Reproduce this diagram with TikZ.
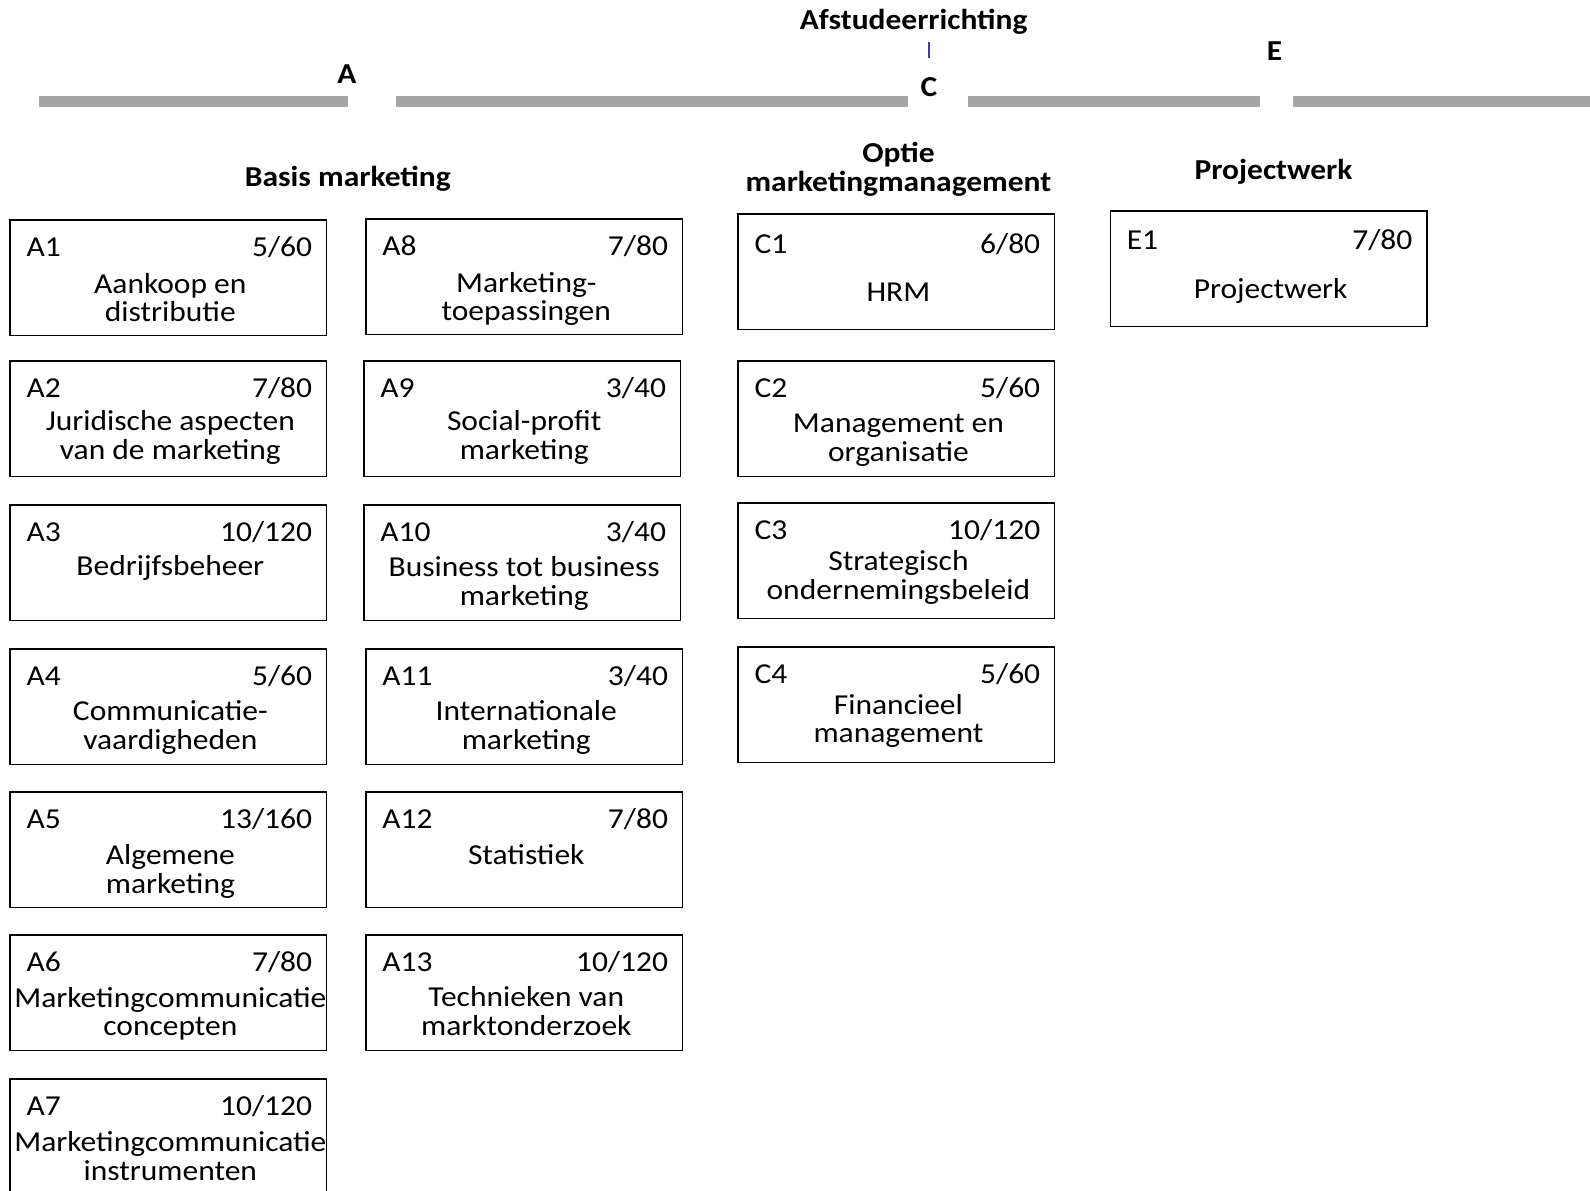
\documentclass[tikz,border=0pt]{standalone}
\usepackage{fontspec}
\setmainfont{Carlito}[FakeStretch=1.09]
\definecolor{bargray}{HTML}{A6A6A6}
\definecolor{tickblue}{HTML}{3C3CB0}
\tikzset{
  modbox/.style={draw=black, line width=1.6pt, minimum width=312pt, minimum height=114pt, inner sep=0pt},
  boxtxt/.style={inner sep=0pt, font=\fontsize{28.5}{27}\selectfont},
  titletxt/.style={inner sep=0pt, font=\fontsize{28.5}{27}\selectfont},
  headtxt/.style={inner sep=0pt, align=center, font=\fontsize{28.5}{29}\selectfont\bfseries},
  bar/.style={draw=none, fill=bargray}
}
\newcommand\ttl[1]{\begin{tabular}[t]{@{}c@{}}#1\end{tabular}}
% #1 name, #2 left x, #3 top y, #4 code, #5 number, #6 title, #7 title baseline offset, #8 code baseline offset
\newcommand\modbox[8]{%
  \node[modbox] (#1) at (#2+156,#3+57) {};
  \node[boxtxt, anchor=base west] (#1code) at (#2+16,#3+#8) {#4};
  \node[boxtxt, anchor=base east] (#1num) at (#2+298,#3+#8) {#5};
  \node[titletxt, anchor=base] (#1title) at (#2+158,#3+#7+1) {\ttl{#6}};
}
\begin{document}
\begin{tikzpicture}[x=1pt,y=-1pt]
\useasboundingbox (0,0) rectangle (1568,1174);
\clip (0,0) rectangle (1568,1174);
% bars
\fill[bar] (38,95) rectangle (343,106);
\fill[bar] (391,95) rectangle (895,106);
\fill[bar] (955,95) rectangle (1243,106);
\fill[bar] (1275,95) rectangle (1568,106);
% top labels
\node[headtxt] (afst) at (901,21) {Afstudeerrichting};
\node[headtxt] (lA) at (342,73) {A};
\node[headtxt] (lC) at (916,86) {C};
\node[headtxt] (lE) at (1257,50) {E};
\coordinate (tickT) at (916,41);
\coordinate (tickB) at (916,57);
\draw[tickblue, line width=2pt] (tickT) -- (tickB);
% headings
\node[headtxt] (hA) at (343,176) {Basis marketing};
\node[headtxt] (hC) at (886,167) {Optie\\marketingmanagement};
\node[headtxt] (hE) at (1256,169) {Projectwerk};
% column A
\modbox{A1}{10}{217}{A1}{5/60}{Aankoop en\\distributie}{71}{36}
\modbox{A2}{10}{356}{A2}{7/80}{Juridische aspecten\\van de marketing}{68}{36}
\modbox{A3}{10}{498}{A3}{10/120}{Bedrijfsbeheer}{69}{36}
\modbox{A4}{10}{640}{A4}{5/60}{Communicatie-\\vaardigheden}{70}{36}
\modbox{A5}{10}{781}{A5}{13/160}{Algemene\\marketing}{71}{36}
\modbox{A6}{10}{922}{A6}{7/80}{Marketingcommunicatie\\concepten}{71}{36}
\modbox{A7}{10}{1064}{A7}{10/120}{Marketingcommunicatie\\instrumenten}{71}{36}
% column A (second)
\modbox{A8}{361}{216}{A8}{7/80}{Marketing-\\toepassingen}{71}{36}
\modbox{A9}{359}{356}{A9}{3/40}{Social-profit\\marketing}{68}{36}
\modbox{A10}{359}{498}{A10}{3/40}{Business tot business\\marketing}{70}{36}
\modbox{A11}{361}{640}{A11}{3/40}{Internationale\\marketing}{70}{36}
\modbox{A12}{361}{781}{A12}{7/80}{Statistiek}{71}{36}
\modbox{A13}{361}{922}{A13}{10/120}{Technieken van\\marktonderzoek}{70}{36}
% column C
\modbox{C1}{728}{211}{C1}{6/80}{HRM}{85}{39}
\modbox{C2}{728}{356}{C2}{5/60}{Management en\\organisatie}{70}{36}
\modbox{C3}{728}{496}{C3}{10/120}{Strategisch\\ondernemingsbeleid}{66}{36}
\modbox{C4}{728}{638}{C4}{5/60}{Financieel\\management}{66}{36}
% column E
\modbox{E1}{1095}{208}{E1}{7/80}{Projectwerk}{85}{38}
\end{tikzpicture}
\end{document}
